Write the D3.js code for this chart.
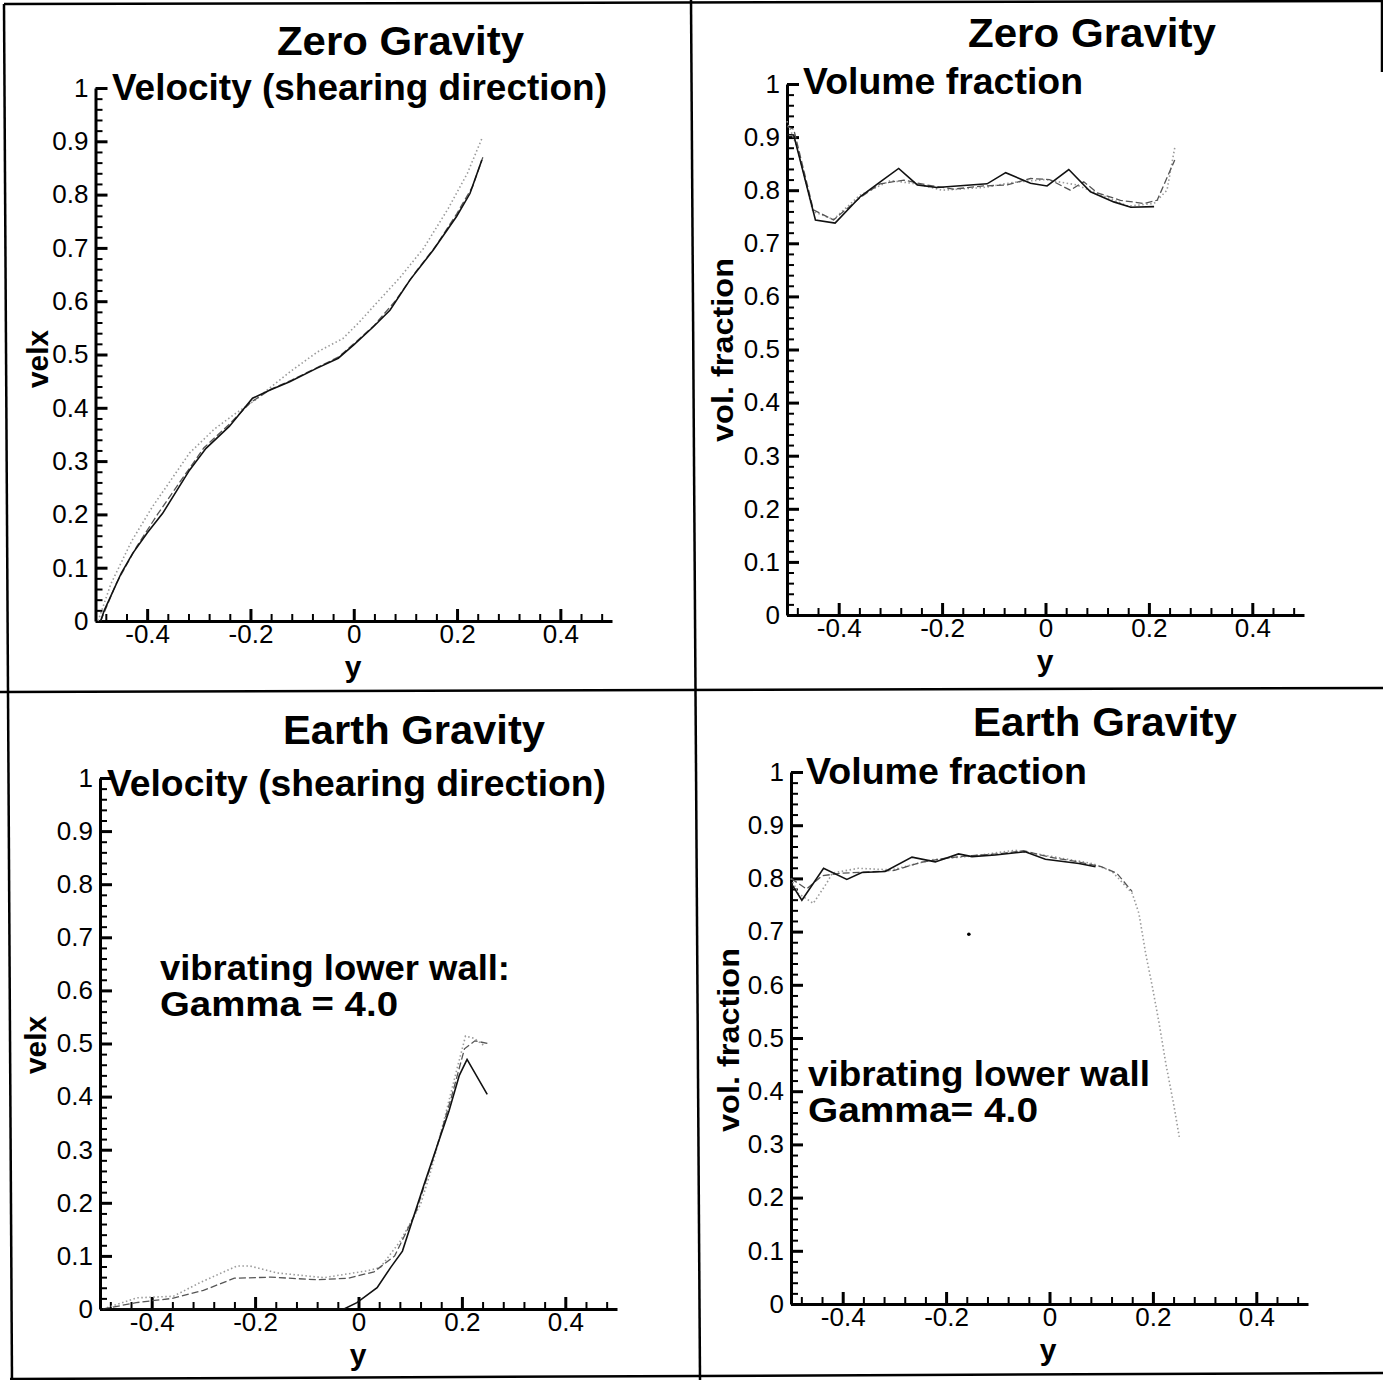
<!DOCTYPE html>
<html>
<head>
<meta charset="utf-8">
<script src="https://cdn.jsdelivr.net/npm/d3@7"></script>
<style>
  html, body { margin: 0; padding: 0; background: #fff; }
  svg text { font-family: "Liberation Sans", Arial, sans-serif; fill: #000; }
</style>
</head>
<body>
<div id="chart"></div>
<script>
// ---- data: [y, value] pairs ----
// zero gravity, velocity in shearing direction
const zgVelSolid = [[-0.49,0],[-0.483,0.02],[-0.45,0.09],[-0.428,0.127],[-0.40,0.165],[-0.37,0.202],[-0.318,0.283],[-0.286,0.324],[-0.241,0.365],[-0.196,0.418],[-0.163,0.433],[-0.124,0.449],[-0.072,0.474],[-0.03,0.493],[0,0.518],[0.038,0.552],[0.07,0.583],[0.109,0.64],[0.154,0.696],[0.199,0.759],[0.225,0.802],[0.248,0.865]];
const zgVelDash = [[-0.49,0],[-0.46,0.07],[-0.42,0.14],[-0.38,0.2],[-0.33,0.27],[-0.29,0.325],[-0.24,0.37],[-0.2,0.41],[-0.16,0.435],[-0.12,0.452],[-0.07,0.476],[-0.03,0.495],[0,0.52],[0.04,0.555],[0.08,0.6],[0.12,0.655],[0.16,0.705],[0.2,0.765],[0.23,0.815],[0.25,0.87]];
const zgVelDot = [[-0.495,0],[-0.47,0.07],[-0.43,0.15],[-0.39,0.214],[-0.35,0.27],[-0.318,0.315],[-0.27,0.36],[-0.228,0.39],[-0.19,0.415],[-0.176,0.427],[-0.12,0.47],[-0.07,0.505],[-0.021,0.53],[0.01,0.56],[0.038,0.59],[0.09,0.645],[0.135,0.699],[0.183,0.774],[0.22,0.84],[0.248,0.905]];

// zero gravity, volume fraction
const zgVolSolid = [[-0.5,0.905],[-0.487,0.904],[-0.445,0.744],[-0.407,0.738],[-0.358,0.788],[-0.319,0.816],[-0.284,0.841],[-0.248,0.81],[-0.21,0.805],[-0.113,0.812],[-0.077,0.833],[-0.029,0.813],[0.003,0.808],[0.045,0.839],[0.087,0.797],[0.132,0.778],[0.165,0.768],[0.21,0.769]];
const zgVolDash = [[-0.5,0.92],[-0.487,0.915],[-0.449,0.763],[-0.41,0.744],[-0.36,0.785],[-0.32,0.812],[-0.274,0.819],[-0.23,0.81],[-0.178,0.802],[-0.12,0.808],[-0.074,0.81],[-0.029,0.822],[0.008,0.82],[0.048,0.8],[0.074,0.816],[0.1,0.795],[0.145,0.781],[0.19,0.775],[0.216,0.781],[0.25,0.857]];
const zgVolDot = [[-0.5,0.93],[-0.48,0.88],[-0.45,0.76],[-0.41,0.745],[-0.36,0.79],[-0.3,0.818],[-0.25,0.812],[-0.2,0.8],[-0.12,0.805],[-0.06,0.815],[0,0.82],[0.06,0.81],[0.11,0.79],[0.16,0.77],[0.21,0.775],[0.235,0.8],[0.25,0.88]];

// earth gravity, velocity in shearing direction
const egVelSolid = [[-0.5,0],[-0.3,0],[-0.1,0],[-0.028,0],[-0.003,0.012],[0.036,0.04],[0.062,0.078],[0.085,0.109],[0.104,0.166],[0.127,0.235],[0.153,0.31],[0.175,0.373],[0.195,0.44],[0.21,0.47],[0.249,0.404]];
const egVelDash = [[-0.494,0],[-0.43,0.012],[-0.36,0.02],[-0.3,0.035],[-0.24,0.058],[-0.17,0.06],[-0.08,0.055],[-0.02,0.058],[0.03,0.07],[0.07,0.1],[0.11,0.18],[0.15,0.3],[0.18,0.4],[0.205,0.49],[0.225,0.505],[0.25,0.5]];
const egVelDot = [[-0.494,0],[-0.429,0.021],[-0.358,0.024],[-0.306,0.05],[-0.235,0.081],[-0.21,0.081],[-0.158,0.068],[-0.067,0.059],[0.017,0.072],[0.042,0.078],[0.081,0.128],[0.12,0.197],[0.14,0.26],[0.165,0.354],[0.191,0.454],[0.207,0.514],[0.223,0.51],[0.243,0.496]];

// earth gravity, volume fraction
const egVolSolid = [[-0.5,0.791],[-0.479,0.759],[-0.437,0.819],[-0.392,0.798],[-0.363,0.811],[-0.318,0.813],[-0.266,0.84],[-0.221,0.831],[-0.176,0.846],[-0.15,0.841],[-0.105,0.844],[-0.047,0.85],[-0.008,0.836],[0.057,0.828],[0.089,0.822]];
const egVolDash = [[-0.5,0.8],[-0.47,0.78],[-0.44,0.805],[-0.4,0.81],[-0.35,0.812],[-0.3,0.815],[-0.25,0.83],[-0.2,0.838],[-0.15,0.843],[-0.1,0.846],[-0.05,0.852],[0,0.84],[0.05,0.832],[0.1,0.822],[0.13,0.81],[0.16,0.775]];
const egVolDot = [[-0.5,0.8],[-0.486,0.772],[-0.457,0.753],[-0.431,0.791],[-0.42,0.81],[-0.37,0.819],[-0.305,0.816],[-0.227,0.835],[-0.15,0.842],[-0.066,0.853],[0.005,0.841],[0.083,0.828],[0.121,0.813],[0.16,0.772],[0.173,0.734],[0.186,0.659],[0.199,0.596],[0.212,0.528],[0.225,0.452],[0.241,0.371],[0.251,0.314]];
const egVolStray = [[-0.156,0.695]];

// ticks
const xMajor = [-0.4, -0.2, 0, 0.2, 0.4];
const xMinor = d3.range(-12, 13).map(i => i * 0.04).filter(v => Math.abs(v * 5 - Math.round(v * 5)) > 1e-6);
const yMajor = d3.range(0, 11).map(i => i / 10);
const yMinor = d3.range(0, 51).map(i => i / 50).filter(v => Math.abs(v * 10 - Math.round(v * 10)) > 1e-6);

const fmt = d => String(+d.toFixed(2));

const svg = d3.select('#chart').append('svg')
  .attr('width', 1383)
  .attr('height', 1380);

svg.append('rect').attr('width', 1383).attr('height', 1380).attr('fill', '#fff');

// page frame (scanned sheet, slightly skewed)
const frame = [
  [4, 4, 1383, 1],
  [4, 4, 12, 1380],
  [691, 0, 700, 1380],
  [0, 692, 1383, 688],
  [10, 1379, 1383, 1373],
  [1382, 0, 1382, 72]
];
svg.selectAll('line.frame').data(frame).enter()
  .append('line')
  .attr('class', 'frame')
  .attr('x1', d => d[0]).attr('y1', d => d[1])
  .attr('x2', d => d[2]).attr('y2', d => d[3])
  .attr('stroke', '#000')
  .attr('stroke-width', 2.5);

function label(text, x, y, size, width, opts) {
  opts = opts || {};
  const t = svg.append('text')
    .text(text)
    .attr('x', x)
    .attr('y', y)
    .style('font-size', size + 'px')
    .style('font-weight', opts.weight || 'bold');
  if (width) t.attr('textLength', width).attr('lengthAdjust', 'spacingAndGlyphs');
  if (opts.anchor) t.attr('text-anchor', opts.anchor);
  if (opts.rotate) t.attr('transform', 'rotate(-90,' + x + ',' + y + ')');
  return t;
}

function makePanel(p) {
  const x = d3.scaleLinear().domain([-0.5, 0.5]).range([p.left, p.right]);
  const y = d3.scaleLinear().domain([0, 1]).range([p.bottom, p.top]);
  const g = svg.append('g');

  // minor ticks first (inward)
  g.append('g')
    .attr('transform', 'translate(0,' + p.bottom + ')')
    .call(d3.axisBottom(x).tickValues(xMinor).tickSize(-7).tickFormat(''))
    .call(a => a.select('.domain').remove())
    .call(a => a.selectAll('line').attr('stroke-width', 2));
  g.append('g')
    .attr('transform', 'translate(' + p.left + ',0)')
    .call(d3.axisLeft(y).tickValues(yMinor).tickSize(-7).tickFormat(''))
    .call(a => a.select('.domain').remove())
    .call(a => a.selectAll('line').attr('stroke-width', 2));

  // major ticks + labels
  const xa = g.append('g')
    .attr('transform', 'translate(0,' + p.bottom + ')')
    .call(d3.axisBottom(x).tickValues(xMajor).tickSizeInner(-12).tickSizeOuter(0).tickPadding(4).tickFormat(fmt));
  const ya = g.append('g')
    .attr('transform', 'translate(' + p.left + ',0)')
    .call(d3.axisLeft(y).tickValues(yMajor).tickSizeInner(-12).tickSizeOuter(0).tickPadding(7).tickFormat(fmt));
  [xa, ya].forEach(a => {
    a.select('.domain').attr('stroke-width', 3);
    a.selectAll('line').attr('stroke-width', 3);
    a.selectAll('text')
      .style('font-size', '26px')
      .style('font-family', '"Liberation Sans", Arial, sans-serif')
      .attr('fill', '#000');
  });

  const line = d3.line().x(d => x(d[0])).y(d => y(d[1]));
  const styles = {
    dot: { stroke: '#9a9a9a', width: 1.6, dash: '1.5,2.5' },
    dash: { stroke: '#555', width: 1.3, dash: '7,3' },
    solid: { stroke: '#111', width: 1.6, dash: null }
  };
  ['dot', 'dash', 'solid'].forEach(k => {
    if (!p.series[k]) return;
    g.append('path')
      .datum(p.series[k])
      .attr('d', line)
      .attr('fill', 'none')
      .attr('stroke', styles[k].stroke)
      .attr('stroke-width', styles[k].width)
      .attr('stroke-dasharray', styles[k].dash);
  });
  if (p.stray) {
    g.selectAll('circle.stray').data(p.stray).enter()
      .append('circle')
      .attr('class', 'stray')
      .attr('cx', d => x(d[0])).attr('cy', d => y(d[1]))
      .attr('r', 1.8).attr('fill', '#000');
  }
}

makePanel({ left: 95.5, right: 612, top: 88, bottom: 621,
  series: { solid: zgVelSolid, dash: zgVelDash, dot: zgVelDot } });
makePanel({ left: 787, right: 1304, top: 84, bottom: 615,
  series: { solid: zgVolSolid, dash: zgVolDash, dot: zgVolDot } });
makePanel({ left: 100, right: 617, top: 778, bottom: 1309,
  series: { solid: egVelSolid, dash: egVelDash, dot: egVelDot } });
makePanel({ left: 791, right: 1308, top: 772, bottom: 1304,
  series: { solid: egVolSolid, dash: egVolDash, dot: egVolDot }, stray: egVolStray });

// titles
label('Zero Gravity', 277, 55, 40, 247);
label('Velocity (shearing direction)', 112, 100, 36, 495);
label('Zero Gravity', 968, 47, 40, 248);
label('Volume fraction', 803, 94, 36, 280);
label('Earth Gravity', 283, 744, 40, 262);
label('Velocity (shearing direction)', 107, 796, 36, 499);
label('Earth Gravity', 973, 736, 40, 264);
label('Volume fraction', 806, 784, 36, 281);

// annotations
label('vibrating lower wall:', 160, 980, 35, 350);
label('Gamma = 4.0', 160, 1016, 35, 238);
label('vibrating lower wall', 808, 1086, 35, 342);
label('Gamma= 4.0', 808, 1122, 35, 230);

// axis titles
label('velx', 48, 359, 30, 58, { anchor: 'middle', rotate: true });
label('y', 353, 677, 30, null, { anchor: 'middle' });
label('vol. fraction', 733, 350, 30, 184, { anchor: 'middle', rotate: true });
label('y', 1045, 671, 30, null, { anchor: 'middle' });
label('velx', 46, 1045, 30, 58, { anchor: 'middle', rotate: true });
label('y', 358, 1365, 30, null, { anchor: 'middle' });
label('vol. fraction', 739, 1040, 30, 184, { anchor: 'middle', rotate: true });
label('y', 1048, 1360, 30, null, { anchor: 'middle' });
</script>
</body>
</html>
